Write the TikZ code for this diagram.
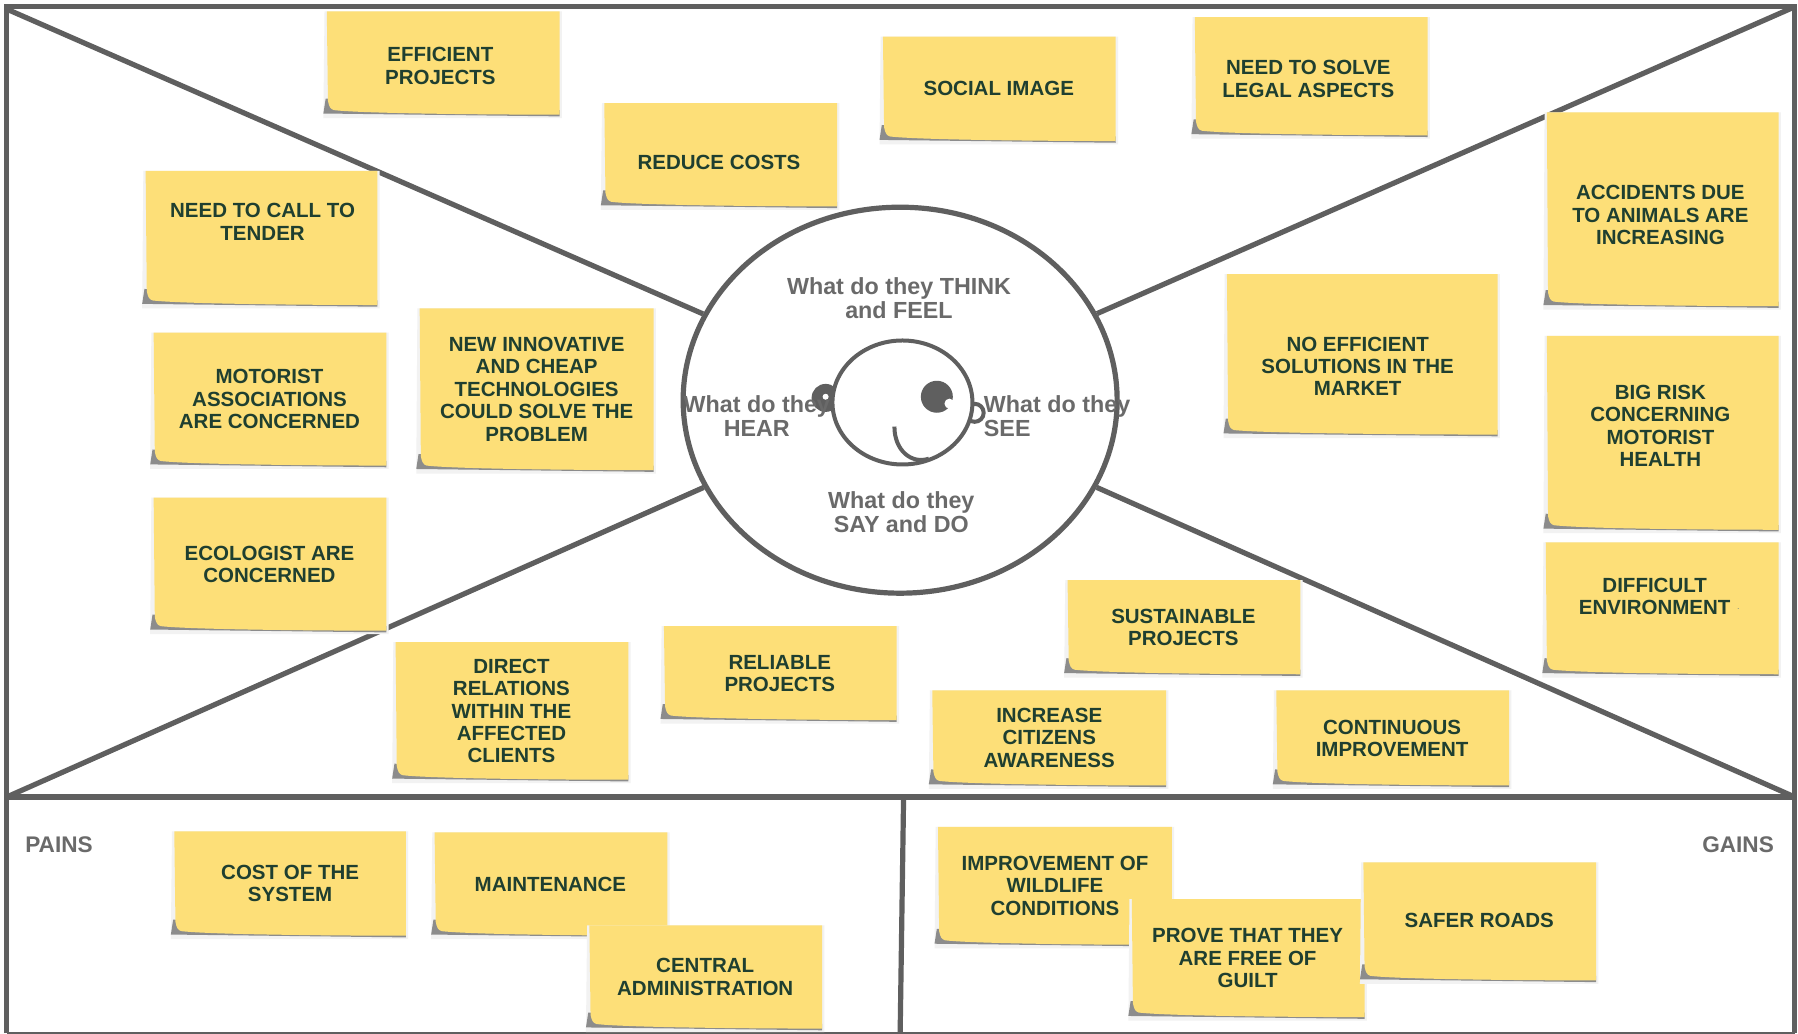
\documentclass[tikz,border=0pt]{standalone}
\usepackage{fontspec}
\setmainfont{Liberation Sans}
\usetikzlibrary{shapes.geometric}
\definecolor{frameline}{HTML}{5F5F5F}
\definecolor{labelgrey}{HTML}{6A6A6A}
\definecolor{paper}{HTML}{FDDF78}
\definecolor{ink}{HTML}{1F3F30}
\tikzset{
  frameline/.style = {draw=frameline,line width=5.2pt},
  faceline/.style = {draw=frameline,line width=4pt},
  notetext/.style = {text=ink,font=\fontsize{20.5}{22.4}\selectfont\bfseries,align=center},
  asktext/.style = {text=labelgrey,font=\fontsize{23.3}{24}\selectfont\bfseries,align=center},
  sidetext/.style = {text=labelgrey,font=\fontsize{22.6}{24}\selectfont\bfseries}
}

\begin{document}
\begin{tikzpicture}[x=1.1467pt,y=-1.1467pt]
  \useasboundingbox (0,0) rectangle (1568,901);
  \fill[white] (0,0) rectangle (1568,901);
  % corners
  \coordinate (topleft) at (6,8);
  \coordinate (topright) at (1565,6);
  \coordinate (midleft) at (6,695);
  \coordinate (midright) at (1565,695);
  \coordinate (midsplit) at (788,695);
  \coordinate (botsplit) at (785,901);
  % frame
  \draw[frameline] (6,901) -- (6,6) -- (1565,6) -- (1565,901);
  \draw[frameline] (midleft) -- (midright);
  \draw[frameline] (midsplit) -- (botsplit);
  \draw[frameline,line width=3pt] (6,901) -- (1565,901);
  % head
  \node[ellipse,frameline,fill=white,minimum width=434pt,minimum height=386pt,inner sep=0pt] (head) at (785,349) {};
  \draw[frameline] (topleft) -- (head);
  \draw[frameline] (topright) -- (head);
  \draw[frameline] (midleft) -- (head);
  \draw[frameline] (midright) -- (head);
  % face
  \fill[fill=frameline] (720,347) circle [radius=14pt];
  \fill[white] (720,346) circle [radius=3pt];
  \draw[faceline] (850,360) circle [radius=9pt];
  \node[ellipse,faceline,fill=white,minimum width=140pt,minimum height=124pt,inner sep=0pt] (face) at (787,351) {};
  \fill[fill=frameline] (817,346) circle [radius=16pt];
  \fill[white] (828,352) circle [radius=5pt];
  \draw[faceline] (780,372) .. controls (780,393) and (795,405) .. (810,400);
  % questions
  \node[asktext] (think) at (784,260) {What do they THINK\\and FEEL};
  \node[asktext] (hear) at (660,363) {What do they\\HEAR};
  \node[asktext,align=left,anchor=west] (see) at (855,363) {What do they\\SEE};
  \node[asktext] (say) at (786,447) {What do they\\SAY and DO};
  % sides
  \node[sidetext,anchor=west] (pains) at (19,737) {PAINS};
  \node[sidetext,anchor=east] (gains) at (1550,737) {GAINS};
  % notes
  \foreach \nm/\xa/\ya/\xb/\yb/\xc/\yc/\txt in {
    efficient/285/10/488/100/384/57.5/{EFFICIENT\\PROJECTS},
    costs/527/90/730/180/627/141.5/{REDUCE COSTS},
    image/770/32/973/123/871/77/{SOCIAL IMAGE},
    legal/1042/15/1245/118/1141/69/{NEED TO SOLVE\\LEGAL ASPECTS},
    tender/127/149/329/266/229/193.5/{NEED TO CALL TO\\TENDER},
    accidents/1349/98/1551/267/1448/187.5/{ACCIDENTS DUE\\TO ANIMALS ARE\\INCREASING},
    solutions/1070/239/1306/379/1184/319.5/{NO EFFICIENT\\SOLUTIONS IN THE\\MARKET},
    risk/1349/293/1551/462/1448/371.5/{BIG RISK\\CONCERNING\\MOTORIST\\HEALTH},
    motorist/134/290/337/406/235/348/{MOTORIST\\ASSOCIATIONS\\ARE CONCERNED},
    innovative/366/269/570/410/468/339.5/{NEW INNOVATIVE\\AND CHEAP\\TECHNOLOGIES\\COULD SOLVE THE\\PROBLEM},
    ecologist/134/434/337/550/235/492/{ECOLOGIST ARE\\CONCERNED},
    difficult/1348/473/1551/588/1443/520/{DIFFICULT\\ENVIRONMENT},
    sustainable/931/506/1134/588/1032/547/{SUSTAINABLE\\PROJECTS},
    reliable/579/546/782/628/680/587.5/{RELIABLE\\PROJECTS},
    relations/345/560/548/680/446/620/{DIRECT\\RELATIONS\\WITHIN THE\\AFFECTED\\CLIENTS},
    awareness/813/602/1017/685/915/643.5/{INCREASE\\CITIZENS\\AWARENESS},
    improvement/1113/602/1316/685/1214/644/{CONTINUOUS\\IMPROVEMENT},
    cost/152/725/354/816/253/770.5/{COST OF THE\\SYSTEM},
    maintenance/379/726/582/816/480/771/{MAINTENANCE},
    central/514/807/717/897/615/852/{CENTRAL\\ADMINISTRATION},
    wildlife/818/721/1022/824/920/772.5/{IMPROVEMENT OF\\WILDLIFE\\CONDITIONS},
    guilt/987/784/1190/887/1088/835.5/{PROVE THAT THEY\\ARE FREE OF\\GUILT},
    safer/1189/752/1392/855/1290/803/{SAFER ROADS}} {
    \fill[black!5] (\xa-2,\ya) -- (\xb+2,\ya) -- (\xb+2,\yb+3) -- (\xa-3,\yb+3) -- cycle;
    \fill[black!45] (\xa-1,\yb-14) -- (\xa-3,\yb-1) -- (\xb,\yb+1.5) -- (\xb,\yb-4) -- cycle;
    \fill[paper] (\xa,\ya) -- (\xb,\ya) -- (\xb,\yb) .. controls (\xb-60,\yb) and (\xa+30,\yb-1) .. (\xa+6,\yb-4) .. controls (\xa+3,\yb-5) and (\xa+2,\yb-7) .. (\xa+1,\yb-12) -- cycle;
    \node[notetext] (\nm) at (\xc,\yc) {\txt};
  }
  % stray mark
  \node[text=ink!60,font=\fontsize{9}{10}\selectfont] (difficultdot) at (1516,531) {.};
\end{tikzpicture}
\end{document}
